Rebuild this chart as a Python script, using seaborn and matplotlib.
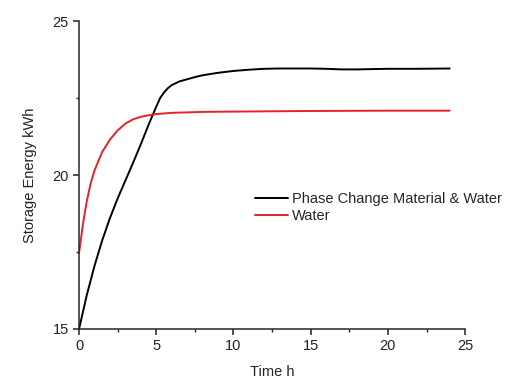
import matplotlib
matplotlib.use("Agg")
import matplotlib.pyplot as plt
from matplotlib.ticker import MultipleLocator
import pandas as pd
import seaborn as sns

# values
time_pcm = [0, 0.5, 1, 1.5, 2, 2.5, 3, 3.5, 4, 4.5, 5, 5.25, 5.5, 5.75, 6, 6.5, 7, 7.5, 8, 9, 10, 11, 12, 13, 14, 15, 16, 17, 18, 19, 20, 22, 24]
energy_pcm = [15.0, 16.1, 17.05, 17.88, 18.6, 19.24, 19.82, 20.4, 21.0, 21.63, 22.22, 22.5, 22.68, 22.82, 22.92, 23.04, 23.11, 23.18, 23.24, 23.32, 23.38, 23.42, 23.45, 23.46, 23.46, 23.46, 23.45, 23.43, 23.43, 23.44, 23.45, 23.45, 23.46]

time_water = [0, 0.25, 0.5, 0.75, 1, 1.5, 2, 2.5, 3, 3.5, 4, 4.5, 5, 6, 8, 10, 15, 20, 24]
energy_water = [17.47, 18.4, 19.15, 19.72, 20.15, 20.75, 21.15, 21.45, 21.67, 21.81, 21.89, 21.94, 21.98, 22.02, 22.05, 22.06, 22.08, 22.09, 22.09]

label_pcm = "Phase Change Material & Water"
label_water = "Water"

df_pcm = pd.DataFrame({"time": time_pcm, "energy": energy_pcm})
df_water = pd.DataFrame({"time": time_water, "energy": energy_water})

sns.set_style("ticks")
plt.rcParams["font.family"] = ["Liberation Sans", "DejaVu Sans"]
plt.rcParams["axes.linewidth"] = 1.1

fig = plt.figure(figsize=(5.1, 3.83), dpi=100)
ax = fig.add_axes([0.155, 0.141, 0.757, 0.804])

sns.lineplot(data=df_pcm, x="time", y="energy", color="black", linewidth=1.4, label=label_pcm, ax=ax)
sns.lineplot(data=df_water, x="time", y="energy", color="#e8202a", linewidth=1.4, label=label_water, ax=ax)

ax.set_xlim(0, 25)
ax.set_ylim(15, 25)
ax.xaxis.set_major_locator(MultipleLocator(5))
ax.xaxis.set_minor_locator(MultipleLocator(2.5))
ax.yaxis.set_major_locator(MultipleLocator(5))
ax.yaxis.set_minor_locator(MultipleLocator(2.5))
ax.tick_params(which="major", direction="out", length=4, width=1.1, labelsize=10.5, colors="#222222")
ax.tick_params(which="minor", direction="out", length=2.5, width=1.0)
sns.despine(ax=ax)

ax.set_xlabel("Time h", fontsize=10.5, color="#222222", labelpad=8)
ax.set_ylabel("Storage Energy kWh", fontsize=10.5, color="#222222", labelpad=11)

ax.legend(loc="upper left", bbox_to_anchor=(0.456, 0.445), frameon=False, fontsize=10.5,
          handlelength=2.25, handletextpad=0.3, labelspacing=0.2, borderpad=0, borderaxespad=0)

plt.savefig("out.png", dpi=100)
